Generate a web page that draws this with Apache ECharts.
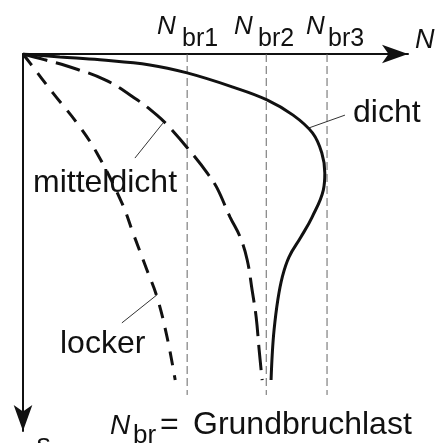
<!DOCTYPE html>
<html>
<head>
<meta charset="utf-8">
<script src="https://cdn.jsdelivr.net/npm/echarts@6/dist/echarts.min.js"></script>
<style>html,body{margin:0;padding:0;background:#fff}#c{width:437px;height:443px}</style>
</head>
<body>
<div id="c"></div>
<script>
// Axis ranges (relative units, N to the right, s downward)
const xMax = 103.2;
const yMax = 103.6;

// Grundbruchlast positions on N axis
const nbrNames = ['br1', 'br2', 'br3'];
const nbrValues = [44.0, 65.2, 81.5];
const nbrLineEnd = 93.7;

// Load-settlement curves [N, s]
const dichtN = [0, 9.9, 20.6, 34.0, 44.0, 56.3, 65.4, 72.4, 77.6, 80.1, 80.9, 80.5, 77.5, 74.5, 71.3, 69.5, 68.3, 67.3, 66.8, 66.5];
const dichtS = [0, 0.8, 1.6, 3.0, 5.2, 9.1, 12.6, 16.8, 21.7, 27.2, 32.7, 37.4, 44.8, 50.3, 55.8, 61.3, 67.6, 75.8, 82.7, 89.6];

const mittelN = [0, 5.9, 11.8, 22.0, 30.6, 35.9, 39.4, 45.6, 49.6, 52.0, 55.5, 58.2, 60.1, 61.4, 62.5, 63.3, 64.1];
const mittelS = [0, 1.6, 3.3, 7.1, 12.6, 16.8, 20.3, 27.7, 33.0, 36.8, 44.8, 50.3, 56.6, 64.8, 72.3, 81.3, 89.6];

const lockerN = [0, 1.9, 8.0, 14.5, 19.8, 26.5, 29.5, 33.2, 35.9, 38.6, 40.8];
const lockerS = [0, 2.5, 10.7, 19.0, 27.2, 40.9, 49.2, 59.3, 66.7, 77.7, 89.6];

// Leader lines for curve labels [[N1,s1],[N2,s2]]
const leaderDicht = [[76.7, 20.3], [86.3, 16.8]];
const leaderMittel = [[30.0, 28.6], [37.5, 19.0]];
const leaderLocker = [[26.5, 73.9], [35.9, 66.2]];

const zip = (a, b) => a.map((v, i) => [v, b[i]]);
const FONT = '"Liberation Sans", Arial, Helvetica, sans-serif';
const INK = '#111';

function txt(text, x, baseline, size, italic) {
  return {
    type: 'text', x: x, y: baseline - 0.24 * size, silent: true,
    style: { text: text, fontSize: size, fontFamily: FONT, fontStyle: italic ? 'italic' : 'normal',
             fill: INK, align: 'left', verticalAlign: 'middle' }
  };
}

const chart = echarts.init(document.getElementById('c'), null, { renderer: 'canvas' });

const series = [];
nbrValues.forEach(v => {
  series.push({
    type: 'line', data: [[v, 0], [v, nbrLineEnd]], symbol: 'none', silent: true,
    lineStyle: { color: '#666', width: 1, type: [8, 4] }, z: 1
  });
});
series.push({
  name: 'dicht', type: 'line', data: zip(dichtN, dichtS), smooth: 0.4, symbol: 'none', silent: true,
  lineStyle: { color: INK, width: 3 }, z: 3
});
series.push({
  name: 'mitteldicht', type: 'line', data: zip(mittelN, mittelS), smooth: 0.4, symbol: 'none', silent: true,
  lineStyle: { color: INK, width: 3, type: [25, 9] }, z: 3
});
series.push({
  name: 'locker', type: 'line', data: zip(lockerN, lockerS), smooth: 0.4, symbol: 'none', silent: true,
  lineStyle: { color: INK, width: 3, type: [14, 10] }, z: 3
});
[leaderDicht, leaderMittel, leaderLocker].forEach(d => {
  series.push({
    type: 'line', data: d, symbol: 'none', silent: true,
    lineStyle: { color: '#333', width: 1 }, z: 2
  });
});

chart.setOption({
  animation: false,
  backgroundColor: '#fff',
  grid: { left: 23, top: 54, right: 29, bottom: 12, containLabel: false },
  xAxis: {
    type: 'value', min: 0, max: xMax, position: 'top',
    axisLine: { show: true, onZero: false, symbol: ['none', 'arrow'], symbolSize: [14, 26],
                lineStyle: { color: INK, width: 2 } },
    axisTick: { show: false }, axisLabel: { show: false }, splitLine: { show: false }
  },
  yAxis: {
    type: 'value', min: 0, max: yMax, inverse: true,
    axisLine: { show: true, onZero: false, symbol: ['arrow', 'none'], symbolSize: [14, 26],
                lineStyle: { color: INK, width: 2 } },
    axisTick: { show: false }, axisLabel: { show: false }, splitLine: { show: false }
  },
  series: series,
  graphic: [
    txt('N', 157, 33, 26, true), txt(nbrNames[0], 182, 45, 25, false),
    txt('N', 234, 33, 26, true), txt(nbrNames[1], 258, 45, 25, false),
    txt('N', 306, 33, 26, true), txt(nbrNames[2], 328, 45, 25, false),
    txt('N', 415, 47, 27, true),
    txt('dicht', 353, 121, 32, false),
    txt('mitteldicht', 33, 191, 32, false),
    txt('locker', 60, 352, 32, false),
    txt('N', 110, 433, 28, true), txt('br', 133, 442, 26, false),
    txt('=', 160, 433, 32, false), txt('Grundbruchlast', 193, 433, 32, false),
    txt('s', 36, 452, 28, true)
  ]
});
</script>
</body>
</html>
